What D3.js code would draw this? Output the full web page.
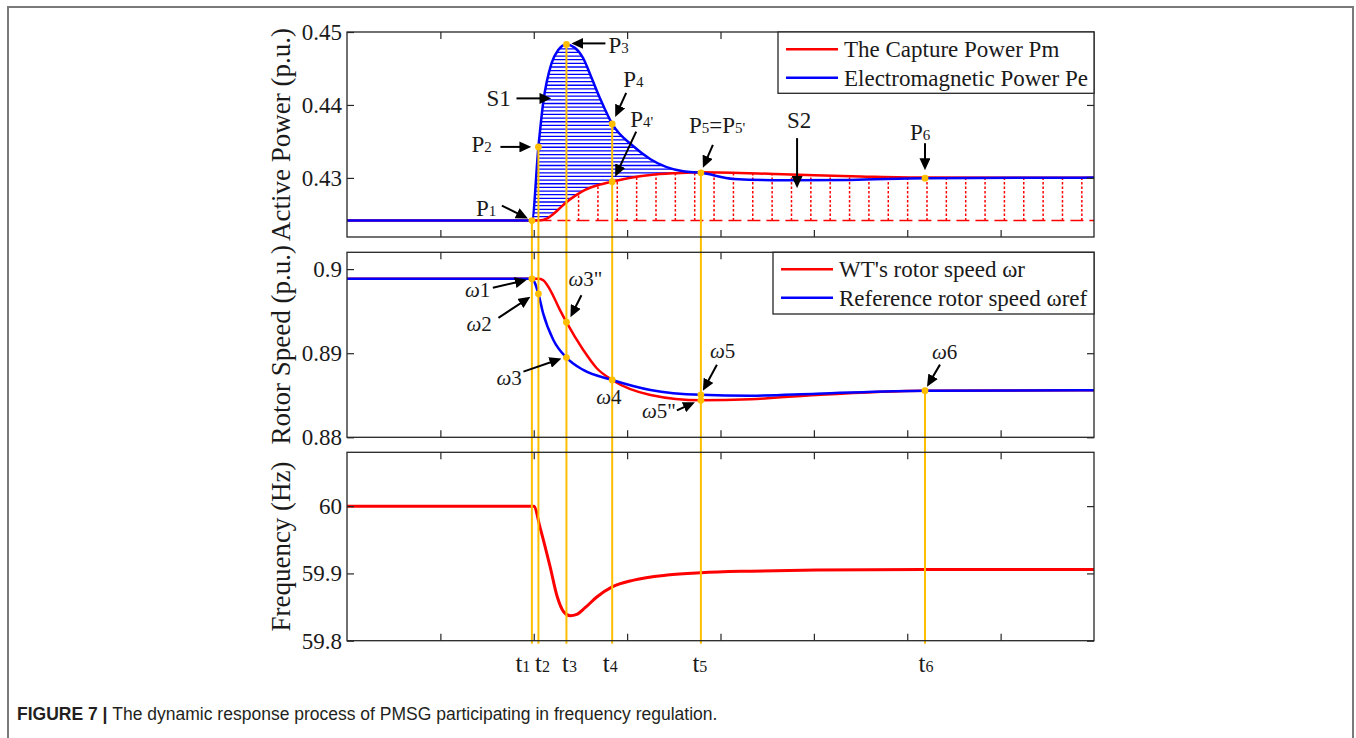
<!DOCTYPE html>
<html>
<head>
<meta charset="utf-8">
<script src="https://d3js.org/d3.v7.min.js"></script>
<style>
body { margin: 0; background: #fff; }
text { font-family: "Liberation Serif", "Times New Roman", serif; fill: #1a1a1a; }
</style>
</head>
<body>
<svg id="svg1" width="1356" height="738"></svg>
<script>
var svg = d3.select("#svg1");

// instants t1..t6 (s) and the regular x ticks
var tMarks = [1.98, 2.05, 2.35, 2.84, 3.79, 6.19];
var tNames = ["1", "2", "3", "4", "5", "6"];
var xTicks = [1, 2, 3, 4, 5, 6, 7];

// active power (p.u.)
var pmTime = [0, 2.05, 2.15, 2.25, 2.35, 2.45, 2.55, 2.70, 2.84, 3.07, 3.25, 3.53, 3.79, 4.67, 5.50, 6.19, 8];
var pmVal  = [0.42415, 0.42415, 0.42450, 0.42550, 0.42667, 0.42760, 0.42835, 0.42905, 0.42949, 0.43010, 0.43041, 0.43065, 0.43078, 0.43050, 0.43020, 0.43004, 0.43003];
var peTime = [0, 1.98, 2.05, 2.10, 2.19, 2.26, 2.35, 2.44, 2.53, 2.61, 2.71, 2.84, 3.07, 3.25, 3.60, 3.79, 4.14, 4.67, 5.39, 6.19, 8];
var peVal  = [0.42415, 0.42415, 0.43425, 0.44020, 0.44570, 0.44750, 0.44830, 0.44785, 0.44640, 0.44400, 0.44090, 0.43740, 0.43430, 0.43256, 0.43090, 0.43070, 0.42986, 0.42968, 0.42973, 0.42996, 0.43004];

// rotor speed (p.u.)
var wrTime   = [0, 2.05, 2.10, 2.175, 2.28, 2.35, 2.53, 2.675, 2.84, 3.25, 3.79, 4.32, 5.03, 6.19, 8];
var wrVal    = [0.89885, 0.89885, 0.89870, 0.89754, 0.89515, 0.89369, 0.89039, 0.88821, 0.88682, 0.88504, 0.88440, 0.88452, 0.88504, 0.88555, 0.88560];
var wrefTime = [0, 1.98, 2.05, 2.10, 2.21, 2.35, 2.53, 2.84, 3.25, 3.79, 4.32, 5.03, 6.19, 8];
var wrefVal  = [0.89885, 0.89885, 0.89706, 0.89476, 0.89158, 0.88948, 0.88801, 0.88682, 0.88563, 0.88505, 0.88495, 0.88519, 0.88555, 0.88560];

// grid frequency (Hz)
var fTime = [0, 2.0, 2.07, 2.175, 2.25, 2.32, 2.39, 2.46, 2.55, 2.675, 2.84, 3.07, 3.43, 3.79, 4.32, 5.03, 6.19, 8];
var fVal  = [60, 60, 59.967, 59.91, 59.866, 59.843, 59.837, 59.839, 59.849, 59.865, 59.88, 59.89, 59.8975, 59.901, 59.9034, 59.905, 59.906, 59.906];

var pTicks = [0.43, 0.44, 0.45], pTickLabels = ["0.43", "0.44", "0.45"];
var wTicks = [0.88, 0.89, 0.9],  wTickLabels = ["0.88", "0.89", "0.9"];
var fTicks = [59.8, 59.9, 60],   fTickLabels = ["59.8", "59.9", "60"];

var RED = "#ff0000", BLUE = "#0000ff", YEL = "#ffbf00", AX = "#262626";

var x = d3.scaleLinear().domain([0, 8]).range([347, 1094]);
var yP = d3.scaleLinear().domain([0.4219, 0.45]).range([237, 32]);
var yW = d3.scaleLinear().domain([0.88, 0.902]).range([437.3, 252.3]);
var yF = d3.scaleLinear().domain([59.8, 60.08]).range([640.7, 452.3]);

var ser = {
  pm:   {t: pmTime,   v: pmVal,   y: yP},
  pe:   {t: peTime,   v: peVal,   y: yP},
  wr:   {t: wrTime,   v: wrVal,   y: yW},
  wref: {t: wrefTime, v: wrefVal, y: yW},
  f:    {t: fTime,    v: fVal,    y: yF}
};
function pts(s) { return d3.zip(s.t, s.v); }
function at(s, t) { return s.v[s.t.indexOf(t)]; }
function lineFor(y) {
  return d3.line().x(function(d) { return x(d[0]); }).y(function(d) { return y(d[1]); }).curve(d3.curveMonotoneX);
}

var defs = svg.append("defs");
defs.append("marker").attr("id", "ah").attr("markerUnits", "userSpaceOnUse")
    .attr("viewBox", "0 0 12 11").attr("refX", 12).attr("refY", 5.5)
    .attr("markerWidth", 12).attr("markerHeight", 11).attr("orient", "auto")
  .append("path").attr("d", "M0,0L12,5.5L0,11Z").attr("fill", "#000");

// clip regions for the S1 / S2 hatching
var base = pmVal[0];
defs.append("clipPath").attr("id", "underPe").append("path")
    .attr("d", d3.area().x(function(d) { return x(d[0]); }).y0(yP.range()[0]).y1(function(d) { return yP(d[1]); })
      .curve(d3.curveMonotoneX)(pts(ser.pe)));
defs.append("clipPath").attr("id", "abovePm").append("path")
    .attr("d", d3.area().x(function(d) { return x(d[0]); }).y0(yP.range()[1]).y1(function(d) { return yP(d[1]); })
      .curve(d3.curveMonotoneX)(pts(ser.pm)));
defs.append("clipPath").attr("id", "underPm").append("path")
    .attr("d", d3.area().x(function(d) { return x(d[0]); }).y0(yP(base)).y1(function(d) { return yP(d[1]); })
      .curve(d3.curveMonotoneX)(pts(ser.pm)));

// page frame
svg.append("path").attr("d", "M8,738V7H1353V738").attr("fill", "none").attr("stroke", "#7a7a7a").attr("stroke-width", 2);

var panels = [
  {y: yP, ticks: pTicks, labels: pTickLabels, title: "Active Power (p.u.)"},
  {y: yW, ticks: wTicks, labels: wTickLabels, title: "Rotor Speed (p.u.)"},
  {y: yF, ticks: fTicks, labels: fTickLabels, title: "Frequency (Hz)"}
];

// S1 horizontal hatch
var s1 = svg.append("g").attr("clip-path", "url(#underPe)").append("g").attr("clip-path", "url(#abovePm)");
s1.selectAll("line").data(d3.range(0.4242, 0.4486, 0.0005)).enter().append("line")
    .attr("x1", x(tMarks[0])).attr("x2", x(tMarks[4]))
    .attr("y1", yP).attr("y2", yP)
    .attr("stroke", BLUE).attr("stroke-width", 1.3);

// S2 vertical dotted lines
var s2 = svg.append("g").attr("clip-path", "url(#underPm)");
s2.selectAll("line").data(d3.range(2.48, 7.9, 0.2073)).enter().append("line")
    .attr("x1", x).attr("x2", x)
    .attr("y1", yP(base)).attr("y2", yP.range()[1])
    .attr("stroke", RED).attr("stroke-width", 1.5).attr("stroke-dasharray", "2.5,2");
svg.append("line")
    .attr("x1", x(tMarks[1])).attr("x2", x(8)).attr("y1", yP(base)).attr("y2", yP(base))
    .attr("stroke", RED).attr("stroke-width", 1.5).attr("stroke-dasharray", "13,6");

// curves
[["pm", RED], ["pe", BLUE], ["wr", RED], ["wref", BLUE], ["f", RED]].forEach(function(c) {
  var s = ser[c[0]];
  svg.append("path").attr("d", lineFor(s.y)(pts(s)))
      .attr("fill", "none").attr("stroke", c[1]).attr("stroke-width", c[0] == "f" ? 3 : 2.5);
});

// yellow instant lines
var lineTop = [["pe", 0], ["pe", 1], ["pe", 2], ["pe", 3], ["pe", 4], ["wref", 5]];
svg.selectAll(".tline").data(tMarks).enter().append("line").attr("class", "tline")
    .attr("x1", x).attr("x2", x)
    .attr("y1", function(d, i) { var s = ser[lineTop[i][0]]; return s.y(at(s, d)); })
    .attr("y2", yF.range()[0] + 3)
    .attr("stroke", YEL).attr("stroke-width", 2);

// axes frames
panels.forEach(function(p) {
  var y0 = p.y.range()[0], y1 = p.y.range()[1];
  var g = svg.append("g");
  g.append("g").attr("transform", "translate(" + x.range()[0] + ",0)")
      .call(d3.axisLeft(p.y).tickValues(p.ticks).tickSize(-7).tickPadding(5)
        .tickFormat(function(d, i) { return p.labels[i]; }));
  g.append("g").attr("transform", "translate(" + x.range()[1] + ",0)")
      .call(d3.axisRight(p.y).tickValues(p.ticks).tickSize(-7).tickFormat(""));
  g.append("g").attr("transform", "translate(0," + y0 + ")")
      .call(d3.axisBottom(x).tickValues(xTicks).tickSize(-7).tickFormat(""));
  g.append("g").attr("transform", "translate(0," + y1 + ")")
      .call(d3.axisTop(x).tickValues(xTicks).tickSize(-7).tickFormat(""));
  g.selectAll(".domain").remove();
  g.selectAll(".tick line").attr("stroke", AX).attr("stroke-width", 1.2);
  g.selectAll(".tick text").attr("fill", AX).attr("font-size", 23)
      .attr("font-family", "'Liberation Serif', 'Times New Roman', serif");
  g.append("rect").attr("x", x.range()[0]).attr("y", y1)
      .attr("width", x.range()[1] - x.range()[0]).attr("height", y0 - y1)
      .attr("fill", "none").attr("stroke", AX).attr("stroke-width", 1.3);
  svg.append("text").attr("transform", "translate(290," + ((y0 + y1) / 2) + ") rotate(-90)")
      .attr("text-anchor", "middle").attr("font-size", 27).text(p.title);
});

// t labels under the frequency panel
var tShift = [-9, 4, 3, -2, -1, 1];
tMarks.forEach(function(t, i) {
  var tx = svg.append("text").attr("x", x(t) + tShift[i]).attr("y", 672).attr("text-anchor", "middle").attr("font-size", 25);
  tx.append("tspan").text("t");
  tx.append("tspan").attr("font-size", 16).text(tNames[i]);
});

// dots
var dots = [["pe", 1.98], ["pe", 2.05], ["pe", 2.35], ["pe", 2.84], ["pm", 2.84], ["pe", 3.79], ["pe", 6.19],
            ["wref", 1.98], ["wref", 2.05], ["wr", 2.35], ["wref", 2.35], ["wref", 2.84], ["wr", 3.79], ["wref", 3.79], ["wref", 6.19]];

// annotations: anchor, arrow offsets [x1,y1,x2,y2], label offset
var notes = [
  {s: "pe", t: 1.98, lab: [["P"], ["1", 1]], a: [-30, -15, -4, -2], l: [-56, -5]},
  {s: "pe", t: 2.05, lab: [["P"], ["2", 1]], a: [-38, 0, -7, 0], l: [-67, 5]},
  {s: "pe", t: 2.35, lab: [["P"], ["3", 1]], a: [39, -1, 5, -1], l: [42, 9]},
  {s: "pe", t: 2.84, lab: [["P"], ["4", 1]], a: [14, -31, 3, -7], l: [11, -37]},
  {s: "pm", t: 2.84, lab: [["P"], ["4'", 1]], a: [24, -50, 3, -5], l: [18, -55]},
  {s: "pe", t: 3.79, lab: [["P"], ["5", 1], ["=P"], ["5'", 1]], a: [12, -28, 2, -5], l: [-12, -40]},
  {s: "pe", t: 6.19, lab: [["P"], ["6", 1]], a: [0, -35, 0, -8], l: [-15, -38]},
  {at: [2.19, 0.4409, yP], lab: [["S1"]], a: [-35, 0, 0, 0], l: [-65, 8]},
  {at: [4.82, 0.4286, yP], lab: [["S2"]], a: [0, -50, 0, 0], l: [-10, -60]},
  {s: "wref", t: 1.98, lab: [["ω", 2], ["1"]], a: [-39, 9, -5, 1], l: [-67, 18]},
  {s: "wref", t: 2.05, lab: [["ω", 2], ["2"]], a: [-40, 24, -8, 3], l: [-72, 37]},
  {s: "wr", t: 2.35, lab: [["ω", 2], ["3\""]], a: [15, -27, 4, -5], l: [2, -36]},
  {s: "wref", t: 2.35, lab: [["ω", 2], ["3"]], a: [-43, 14, -5, 1], l: [-70, 27]},
  {s: "wref", t: 2.84, lab: [["ω", 2], ["4"]], l: [-16, 24]},
  {s: "wr", t: 3.79, lab: [["ω", 2], ["5\""]], a: [-24, 10, -6, 2], l: [-59, 18]},
  {s: "wref", t: 3.79, lab: [["ω", 2], ["5"]], a: [16, -30, 2, -4], l: [9, -37]},
  {s: "wref", t: 6.19, lab: [["ω", 2], ["6"]], a: [15, -26, 2, -4], l: [7, -32]}
];

notes.forEach(function(n) {
  var px, py;
  if (n.at) { px = x(n.at[0]); py = n.at[2](n.at[1]); }
  else { var s = ser[n.s]; px = x(n.t); py = s.y(at(s, n.t)); }
  if (n.a) {
    var x1 = px + n.a[0], y1 = py + n.a[1], x2 = px + n.a[2], y2 = py + n.a[3];
    var len = Math.hypot(x2 - x1, y2 - y1), k = (len - 6) / len;
    svg.append("line").attr("x1", x1).attr("y1", y1)
        .attr("x2", x1 + (x2 - x1) * k).attr("y2", y1 + (y2 - y1) * k)
        .attr("stroke", "#000").attr("stroke-width", 2);
    svg.append("path").attr("d", "M" + x1 + "," + y1 + "L" + x2 + "," + y2)
        .attr("stroke", "none").attr("fill", "none").attr("marker-end", "url(#ah)");
  }
  var greek = n.lab[0][1] == 2;
  var tx = svg.append("text").attr("x", px + n.l[0]).attr("y", py + n.l[1]).attr("font-size", greek ? 21 : 23);
  n.lab.forEach(function(p) {
    var ts = tx.append("tspan").text(p[0]);
    if (p[1] == 1) ts.attr("font-size", 15);
    if (p[1] == 2) ts.attr("font-style", "italic");
  });
});

svg.selectAll(".dot").data(dots).enter().append("circle").attr("class", "dot")
    .attr("cx", function(d) { return x(d[1]); })
    .attr("cy", function(d) { var s = ser[d[0]]; return s.y(at(s, d[1])); })
    .attr("r", 3.4).attr("fill", YEL);

// legends
var legends = [
  {y: yP, items: [["The Capture Power Pm", RED], ["Electromagnetic Power Pe", BLUE]], w: 316, h: 61.3, rows: [17.3, 45.7]},
  {y: yW, items: [["WT's rotor speed ωr", RED], ["Reference rotor speed ωref", BLUE]], w: 321, h: 61.7, rows: [17, 45.4]}
];
legends.forEach(function(L) {
  var top = L.y.range()[1], left = x.range()[1] - L.w;
  var g = svg.append("g");
  g.append("rect").attr("x", left).attr("y", top).attr("width", L.w).attr("height", L.h)
      .attr("fill", "#fff").attr("stroke", AX).attr("stroke-width", 1.3);
  L.items.forEach(function(it, i) {
    var yy = top + L.rows[i];
    g.append("line").attr("x1", left + 8).attr("x2", left + 60).attr("y1", yy).attr("y2", yy)
        .attr("stroke", it[1]).attr("stroke-width", 2.5);
    g.append("text").attr("x", left + 66).attr("y", yy + 8).attr("font-size", 23).text(it[0]);
  });
});

// caption
var cap = svg.append("text").attr("x", 17).attr("y", 720)
    .style("font-family", "'Liberation Sans', Arial, sans-serif").attr("font-size", 17.5).style("fill", "#231f20");
cap.append("tspan").attr("font-weight", "bold").text("FIGURE 7 | ");
cap.append("tspan").text("The dynamic response process of PMSG participating in frequency regulation.");
</script>
</body>
</html>
